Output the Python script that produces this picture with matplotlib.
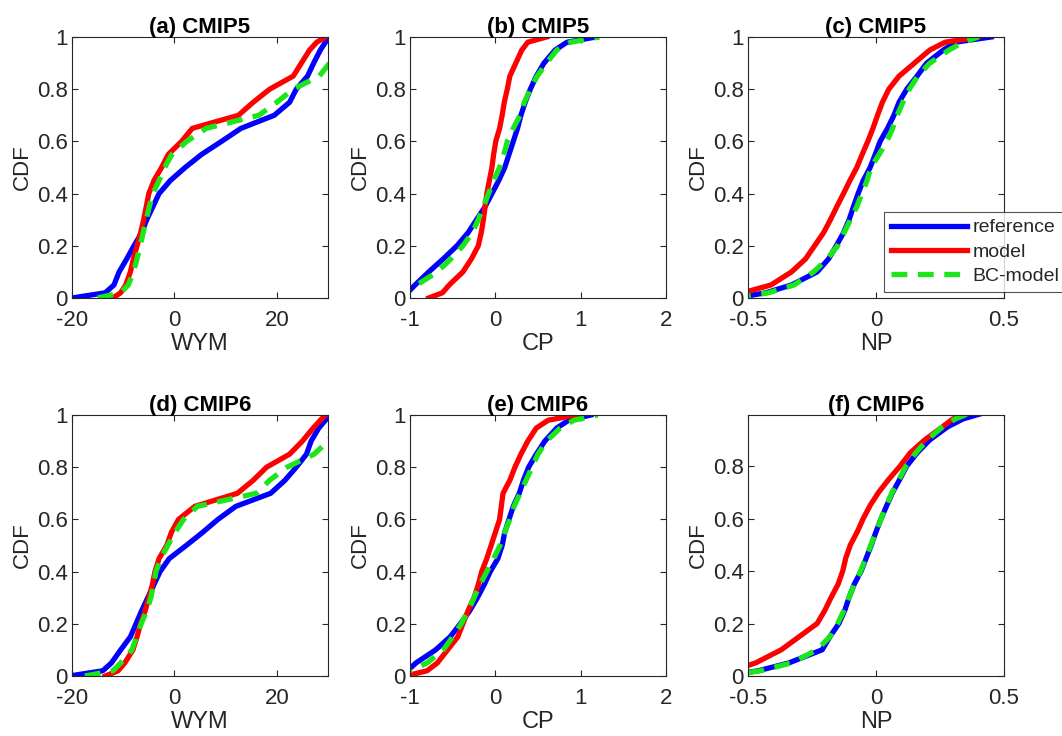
import matplotlib
matplotlib.use("Agg")
import matplotlib.pyplot as plt

plt.rcParams['font.family'] = ['Liberation Sans', 'DejaVu Sans']

# CDF levels shared by every curve; each series lists the x value (quantile) at those levels
cdf_levels = [0, 0.02, 0.05, 0.10, 0.15, 0.20, 0.25, 0.30, 0.35, 0.40, 0.45, 0.50,
              0.55, 0.60, 0.65, 0.70, 0.75, 0.80, 0.85, 0.90, 0.95, 0.98, 1.0]

# (a) WYM, CMIP5
wym5_ref = [-20, -13.5, -11.8, -10.8, -9.3, -7.9, -6.4, -5.4, -4.2, -3.0, -0.8, 2.1,
            5.3, 9.2, 13.0, 19.5, 22.5, 23.8, 26.0, 27.2, 28.5, 29.5, 30.5]
wym5_mod = [-12, -10.5, -9.5, -8.6, -8.0, -7.3, -6.6, -6.0, -5.5, -5.0, -4.0, -2.5,
            -1.2, 1.4, 3.5, 12.5, 15.4, 18.6, 23.2, 24.8, 26.4, 27.8, 29.5]
wym5_bc = [-15, -10.5, -9.0, -8.0, -7.3, -6.7, -6.1, -5.5, -4.9, -4.2, -3.0, -1.9,
           -0.5, 2.4, 6.2, 16.5, 20.0, 23.2, 28.3, 30.3, 32, 33, 34]

# (b) CP, CMIP5
cp5_ref = [-1.1, -1.03, -0.94, -0.78, -0.61, -0.45, -0.32, -0.22, -0.12, -0.04, 0.04, 0.11,
           0.16, 0.21, 0.26, 0.30, 0.35, 0.41, 0.48, 0.57, 0.70, 0.84, 1.18]
cp5_mod = [-0.78, -0.62, -0.54, -0.38, -0.28, -0.20, -0.165, -0.14, -0.12, -0.10, -0.07, -0.04,
           -0.02, 0.005, 0.05, 0.08, 0.105, 0.14, 0.17, 0.24, 0.31, 0.38, 0.6]
cp5_bc = [-1.15, -1.08, -0.92, -0.68, -0.52, -0.38, -0.27, -0.20, -0.14, -0.08, -0.02, 0.05,
          0.10, 0.14, 0.21, 0.29, 0.34, 0.41, 0.49, 0.60, 0.72, 0.88, 1.22]

# (c) NP, CMIP5
np5_ref = [-0.55, -0.43, -0.33, -0.23, -0.185, -0.155, -0.127, -0.105, -0.088, -0.07, -0.05, -0.023,
           -0.003, 0.016, 0.045, 0.07, 0.09, 0.12, 0.16, 0.198, 0.263, 0.31, 0.45]
np5_mod = [-0.58, -0.52, -0.41, -0.33, -0.275, -0.24, -0.205, -0.178, -0.153, -0.127, -0.102, -0.075,
           -0.054, -0.032, -0.012, 0.006, 0.025, 0.05, 0.09, 0.15, 0.21, 0.27, 0.40]
np5_bc = [-0.55, -0.42, -0.32, -0.244, -0.19, -0.15, -0.125, -0.10, -0.075, -0.055, -0.035, -0.02,
          0.012, 0.042, 0.065, 0.083, 0.105, 0.13, 0.163, 0.21, 0.285, 0.34, 0.40]

# (d) WYM, CMIP6
wym6_ref = [-20.5, -14, -12.3, -10.5, -8.6, -7.5, -6.4, -5.2, -4.0, -2.8, -1.0, 2.3,
            5.5, 8.5, 12.0, 18.8, 21.6, 23.8, 25.8, 26.7, 28.2, 29.5, 30.5]
wym6_mod = [-13.5, -11, -9.7, -8.1, -7.3, -6.6, -5.7, -5.0, -4.3, -3.8, -3.0, -1.5,
            -0.6, 0.8, 4.0, 12.3, 15.4, 18.0, 22.5, 25.0, 27.1, 28.5, 29.5]
wym6_bc = [-17.5, -12, -10.5, -8.3, -7.4, -6.5, -5.4, -4.6, -4.1, -3.6, -2.7, -1.3,
           0.1, 1.8, 4.5, 16.0, 18.6, 22.0, 27.3, 30.0, 32, 33, 34]

# (e) CP, CMIP6
cp6_ref = [-1.1, -1.03, -0.93, -0.70, -0.53, -0.41, -0.30, -0.21, -0.13, -0.06, 0.03, 0.08,
           0.11, 0.16, 0.21, 0.28, 0.33, 0.39, 0.48, 0.58, 0.72, 0.86, 1.12]
cp6_mod = [-1.05, -0.80, -0.68, -0.56, -0.44, -0.38, -0.32, -0.25, -0.20, -0.16, -0.10, -0.05,
           0.0, 0.05, 0.07, 0.09, 0.17, 0.23, 0.30, 0.38, 0.48, 0.62, 0.95]
cp6_bc = [-1.15, -1.0, -0.80, -0.61, -0.50, -0.40, -0.32, -0.25, -0.18, -0.10, -0.02, 0.055,
          0.11, 0.17, 0.22, 0.29, 0.36, 0.43, 0.50, 0.60, 0.76, 0.92, 1.2]

# (f) NP, CMIP6
np6_ref = [-0.6, -0.46, -0.34, -0.21, -0.18, -0.145, -0.122, -0.105, -0.085, -0.058, -0.038, -0.018,
           0.0, 0.02, 0.042, 0.065, 0.093, 0.12, 0.16, 0.21, 0.28, 0.34, 0.41]
np6_mod = [-0.6, -0.56, -0.47, -0.37, -0.30, -0.23, -0.20, -0.175, -0.148, -0.13, -0.118, -0.10,
           -0.073, -0.05, -0.023, 0.01, 0.05, 0.094, 0.133, 0.19, 0.26, 0.30, 0.36]
np6_bc = [-0.6, -0.45, -0.33, -0.23, -0.18, -0.15, -0.125, -0.105, -0.085, -0.06, -0.04, -0.02,
          0.0, 0.02, 0.04, 0.063, 0.09, 0.117, 0.155, 0.20, 0.26, 0.31, 0.36]

titles = ["(a) CMIP5", "(b) CMIP5", "(c) CMIP5", "(d) CMIP6", "(e) CMIP6", "(f) CMIP6"]
xlabels = ["WYM", "CP", "NP", "WYM", "CP", "NP"]
series = [(wym5_ref, wym5_mod, wym5_bc), (cp5_ref, cp5_mod, cp5_bc), (np5_ref, np5_mod, np5_bc),
          (wym6_ref, wym6_mod, wym6_bc), (cp6_ref, cp6_mod, cp6_bc), (np6_ref, np6_mod, np6_bc)]
xlims = [(-20, 30), (-1, 2), (-0.5, 0.5)] * 2
xticks = [[-20, 0, 20], [-1, 0, 1, 2], [-0.5, 0, 0.5]] * 2
xticklabels = [["-20", "0", "20"], ["-1", "0", "1", "2"], ["-0.5", "0", "0.5"]] * 2

txt = "#262626"
fig = plt.figure(figsize=(10.62, 7.36), dpi=100)

lefts = [72 / 1062, 410 / 1062, 748 / 1062]
bottoms = [(736 - 298) / 736, (736 - 676) / 736]
w = 256 / 1062
h = 261 / 736

for i in range(6):
    ax = fig.add_axes([lefts[i % 3], bottoms[i // 3], w, h])
    ref, mod, bc = series[i]
    ax.plot(ref, cdf_levels, color=(0, 0, 1), lw=3.8, label="reference")
    ax.plot(mod, cdf_levels, color=(1, 0, 0), lw=3.8, label="model")
    ax.plot(bc, cdf_levels, color=(0.1, 0.9, 0.1), lw=3.8, ls=(0, (3, 2)), label="BC-model")

    ax.set_xlim(*xlims[i])
    ax.set_xticks(xticks[i])
    ax.set_xticklabels(xticklabels[i])
    if i == 5:
        ax.set_ylim(0, 0.995)
        ax.set_yticks([0, 0.2, 0.4, 0.6, 0.8])
        ax.set_yticklabels(["0", "0.2", "0.4", "0.6", "0.8"])
    else:
        ax.set_ylim(0, 1)
        ax.set_yticks([0, 0.2, 0.4, 0.6, 0.8, 1])
        ax.set_yticklabels(["0", "0.2", "0.4", "0.6", "0.8", "1"])

    ax.tick_params(direction="in", top=True, right=True, length=4, width=0.8,
                   labelsize=16, colors=txt)
    ax.tick_params(axis="x", pad=9)
    ax.tick_params(axis="y", pad=3)
    for sp in ax.spines.values():
        sp.set_color("#262626")
        sp.set_linewidth(0.8)
    ax.set_title(titles[i], fontsize=16, fontweight="bold", color="black", pad=3)
    ax.set_xlabel(xlabels[i], fontsize=17, color=txt, labelpad=1)
    ax.set_ylabel("CDF", fontsize=16, color=txt, labelpad=3)

    if i == 2:
        leg = ax.legend(loc="upper left", bbox_to_anchor=(884 / 1062, (736 - 212) / 736),
                        bbox_transform=fig.transFigure, fontsize=14, frameon=True,
                        fancybox=False, handlelength=3.9, borderpad=0.35,
                        labelspacing=0.35, handletextpad=0.3, borderaxespad=0)
        leg.get_frame().set_edgecolor("#262626")
        leg.get_frame().set_linewidth(0.8)
        for t in leg.get_texts():
            t.set_color(txt)

fig.savefig("out.png", dpi=100)
